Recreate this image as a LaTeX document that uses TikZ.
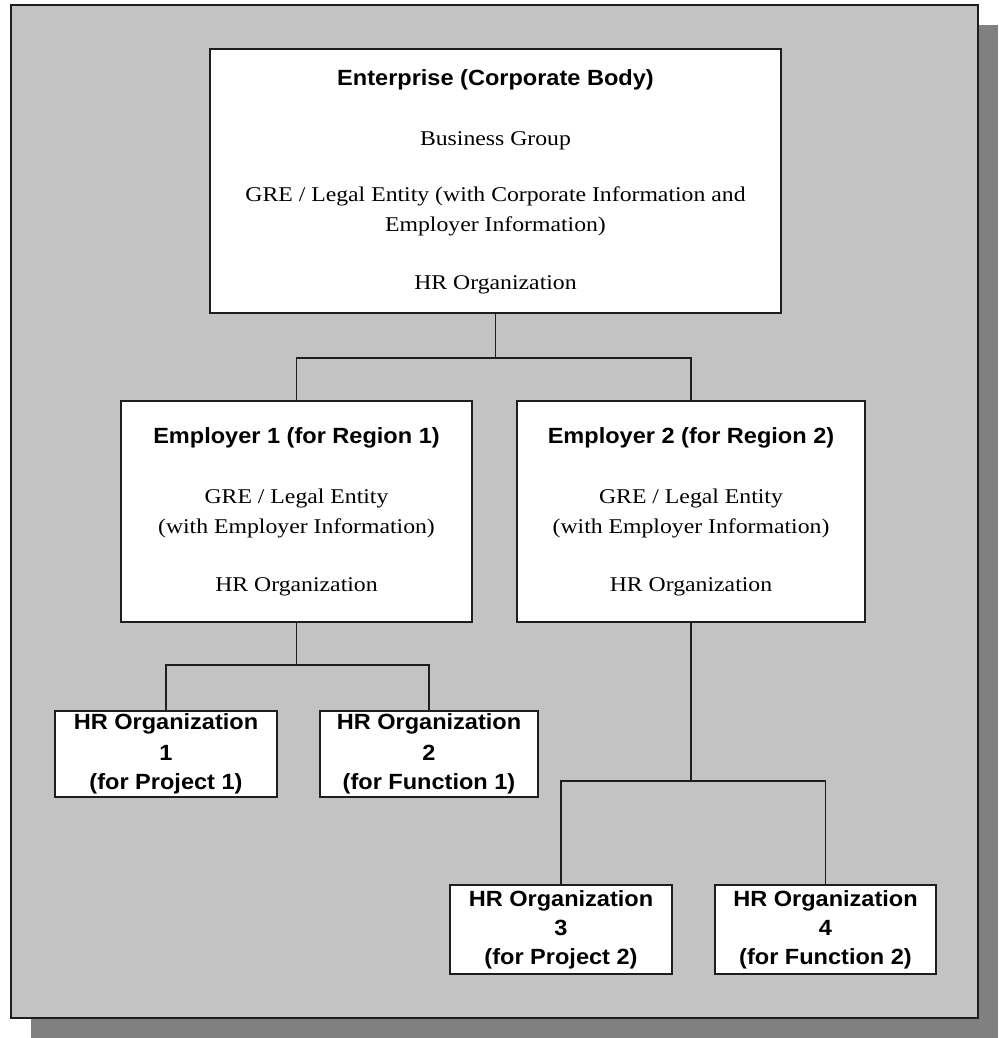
\documentclass[tikz,border=0pt]{standalone}
\usepackage{fontspec}
\setmainfont{Liberation Serif}[FakeStretch=1.13]
\newfontfamily\hdfont{Liberation Sans}[FakeStretch=1.07]
\definecolor{linec}{RGB}{30,30,30}
\definecolor{panelc}{RGB}{195,195,195}
\definecolor{shadowc}{RGB}{128,128,128}
\tikzset{
  boxstyle/.style={draw=linec, line width=1.8pt, fill=white, rectangle, inner sep=0pt},
  hd/.style={font=\hdfont\bfseries\fontsize{22}{26}\selectfont, anchor=base, inner sep=0pt},
  tx/.style={font=\fontsize{21}{25}\selectfont, anchor=base, inner sep=0pt},
  conn/.style={draw=linec, line width=1.8pt},
}
\begin{document}
\begin{tikzpicture}[x=1pt,y=-1pt]
\useasboundingbox (0,0) rectangle (998,1038);
% shadow and panel
\fill[shadowc] (31,25) rectangle (998,1038);
\draw[fill=panelc, draw=linec, line width=2pt] (11,5) rectangle (978,1018);

% boxes
\node[boxstyle, minimum width=571pt, minimum height=264pt] (ent) at (495.5,181) {};
\node[boxstyle, minimum width=351pt, minimum height=221pt] (e1) at (296.5,511.5) {};
\node[boxstyle, minimum width=348pt, minimum height=221pt] (e2) at (691,511.5) {};
\node[boxstyle, minimum width=222pt, minimum height=86pt] (hr1) at (166,754) {};
\node[boxstyle, minimum width=218pt, minimum height=86pt] (hr2) at (429,754) {};
\node[boxstyle, minimum width=222pt, minimum height=89pt] (hr3) at (561,929.5) {};
\node[boxstyle, minimum width=221pt, minimum height=89pt] (hr4) at (825.5,929.5) {};

% connectors
\draw[conn] (ent.south) -- ++(0,44) coordinate (j0) -| (e1.north);
\draw[conn] (j0) -| (e2.north);
\draw[conn] (e1.south) -- ++(0,42) coordinate (j1) -| (hr1.north);
\draw[conn] (j1) -| (hr2.north);
\draw[conn] (e2.south) -- ++(0,158) coordinate (j2) -| (hr3.north);
\draw[conn] (j2) -| (hr4.north);

% texts: enterprise
\node[hd] (ent-t1) at (495.5,85.7) {Enterprise (Corporate Body)};
\node[tx] (ent-t2) at (495.5,145) {Business Group};
\node[tx] (ent-t3) at (495.5,201.7) {GRE / Legal Entity (with Corporate Information and};
\node[tx] (ent-t4) at (495.5,231.7) {Employer Information)};
\node[tx] (ent-t5) at (495.5,289.3) {HR Organization};

% employer 1
\node[hd] (e1-t1) at (296.5,443.3) {Employer 1 (for Region 1)};
\node[tx] (e1-t2) at (296.5,503.3) {GRE / Legal Entity};
\node[tx] (e1-t3) at (296.5,533.3) {(with Employer Information)};
\node[tx] (e1-t4) at (296.5,591.7) {HR Organization};

% employer 2
\node[hd] (e2-t1) at (691,443.3) {Employer 2 (for Region 2)};
\node[tx] (e2-t2) at (691,503.3) {GRE / Legal Entity};
\node[tx] (e2-t3) at (691,533.3) {(with Employer Information)};
\node[tx] (e2-t4) at (691,591.7) {HR Organization};

% HR orgs
\node[hd] (hr1-t1) at (166,729.3) {HR Organization};
\node[hd] (hr1-t2) at (166,760) {1};
\node[hd] (hr1-t3) at (166,789.5) {(for Project 1)};
\node[hd] (hr2-t1) at (429,729.3) {HR Organization};
\node[hd] (hr2-t2) at (429,760) {2};
\node[hd] (hr2-t3) at (429,789.5) {(for Function 1)};
\node[hd] (hr3-t1) at (561,906) {HR Organization};
\node[hd] (hr3-t2) at (561,935) {3};
\node[hd] (hr3-t3) at (561,964) {(for Project 2)};
\node[hd] (hr4-t1) at (825.5,906) {HR Organization};
\node[hd] (hr4-t2) at (825.5,935) {4};
\node[hd] (hr4-t3) at (825.5,964) {(for Function 2)};
\end{tikzpicture}
\end{document}
